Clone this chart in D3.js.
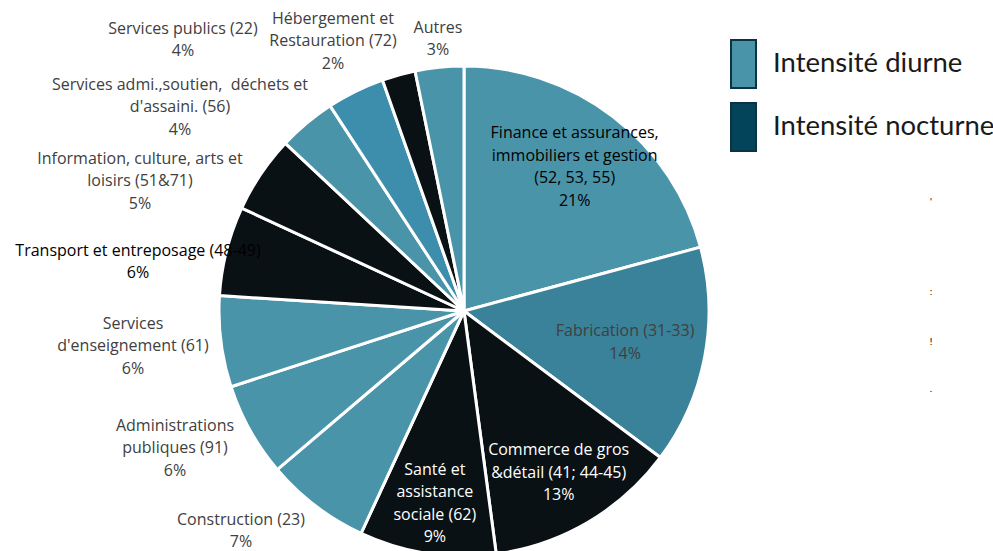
<!DOCTYPE html>
<html>
<head>
<meta charset="utf-8">
<script src="https://cdn.jsdelivr.net/npm/d3@7"></script>
<style>
  body { margin: 0; background: #fff; }
  svg { display: block; }
</style>
</head>
<body>
<div id="chart"></div>
<script>
var width = 993, height = 551;

// secteurs, dans l'ordre horaire depuis midi
var names = [
  "Finance et assurances,|immobiliers et gestion|(52, 53, 55)",
  "Fabrication (31-33)",
  "Commerce de gros|&détail (41; 44-45)",
  "Santé et|assistance|sociale (62)",
  "Construction (23)",
  "Administrations|publiques (91)",
  "Services|d'enseignement (61)",
  "Transport et entreposage (48-49)",
  "Information, culture, arts et|loisirs (51&71)",
  "Services admi.,soutien,  déchets et|d'assaini. (56)",
  "Services publics (22)",
  "Hébergement et|Restauration (72)",
  "Autres"
];
var shares = [20.8, 14.4, 12.7, 9.0, 6.9, 6.2, 6.0, 5.9, 5.1, 3.8, 3.8, 2.2, 3.2];
var intensity = ["jour", "jour2", "nuit", "nuit", "jour", "jour", "jour", "nuit", "nuit", "jour", "jour3", "nuit", "jour"];
var legendLabels = ["Intensité diurne", "Intensité nocturne"];

var fills = {jour: "#4a94aa", jour2: "#3a8299", jour3: "#3d8ead", nuit: "#0a1114"};

// position des étiquettes : polaire (dedans) ou fixe (dehors, comme Excel les a poussées)
var labelLayout = [
  {r: 182}, {r: 164, color: "#404040"}, {r: 187, color: "#fff"}, {r: 194, color: "#fff"},
  {x: 241, y: 519}, {x: 175, y: 425}, {x: 133, y: 323}, {x: 138, y: 250, color: "#000"},
  {x: 140, y: 158}, {x: 180, y: 84}, {x: 183, y: 28}, {x: 333, y: 18}, {x: 438, y: 27}
];

var cx = 464, cy = 311, radius = 245;
var lineH = 22.5;

var svg = d3.select('#chart').append('svg')
  .attr('width', width)
  .attr('height', height);

var pie = d3.pie().sort(null).value((d) => d);
var arcs = pie(shares);
var arc = d3.arc().innerRadius(0).outerRadius(radius);

var g = svg.append('g').attr('transform', 'translate(' + cx + ',' + cy + ')');

g.selectAll('.slice')
  .data(arcs)
  .enter()
    .append('path')
    .attr('class', 'slice')
    .attr('d', arc)
    .style('fill', (d, i) => fills[intensity[i]])
    .style('stroke', '#fff')
    .style('stroke-width', 3)
    .style('stroke-linejoin', 'round');

var fmt = d3.format('.0f');

arcs.forEach((d, i) => {
  var lay = labelLayout[i];
  var lines = names[i].split('|').concat([fmt(d.value) + '%']);
  var x, y;
  if (lay.r !== undefined) {
    var mid = (d.startAngle + d.endAngle) / 2;
    x = cx + lay.r * Math.sin(mid);
    y = cy - lay.r * Math.cos(mid) - (lines.length - 1) * lineH / 2;
  } else {
    x = lay.x;
    y = lay.y;
  }
  var t = svg.append('text')
    .attr('x', x)
    .attr('y', y)
    .attr('text-anchor', 'middle')
    .style('font-family', "'Open Sans'")
    .style('font-size', '16px')
    .style('fill', lay.color || (lay.r !== undefined ? '#000' : '#404040'));
  lines.forEach((ln, k) => {
    t.append('tspan')
      .attr('x', x)
      .attr('dy', k === 0 ? '0.35em' : lineH)
      .style('white-space', 'pre')
      .text(ln);
  });
});

// légende
var legendColors = ["#4a94aa", "#04445b"];
var leg = svg.append('g').selectAll('.legend')
  .data(legendLabels)
  .enter()
    .append('g')
    .attr('class', 'legend')
    .attr('transform', (d, i) => 'translate(731,' + (40 + i * 63) + ')');

leg.append('rect')
  .attr('width', 25)
  .attr('height', 48)
  .style('fill', (d, i) => legendColors[i])
  .style('stroke', '#0c3344')
  .style('stroke-width', 2);

leg.append('text')
  .attr('x', 42)
  .attr('y', 22)
  .attr('dy', '0.35em')
  .style('font-family', "Lato, 'Noto Sans', sans-serif")
  .style('font-size', '27.5px')
  .style('fill', '#1a1a1a')
  .text((d) => d);

// petits restes de texte coupés à droite
var crumbs = ["'", ":", "!", "."];
var crumbY = [202, 292, 342, 389];
svg.append('g').selectAll('text.crumb')
  .data(crumbs)
  .enter()
    .append('text')
    .attr('class', 'crumb')
    .attr('x', 931)
    .attr('y', (d, i) => crumbY[i])
    .attr('dy', '0.35em')
    .attr('text-anchor', 'middle')
    .style('font-family', "'DejaVu Sans'")
    .style('font-size', '9px')
    .style('fill', '#000')
    .text((d) => d);
</script>
</body>
</html>
